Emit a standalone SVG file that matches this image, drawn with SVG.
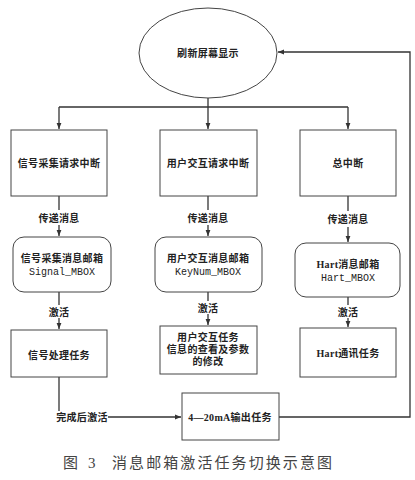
<svg xmlns="http://www.w3.org/2000/svg" width="415" height="480" viewBox="0 0 415 480">
<style>
.n{fill:#fff;stroke:#444;stroke-width:1}
.c{fill:none;stroke:#333;stroke-width:1.3}
.t{font-family:"Liberation Serif","Noto Sans CJK SC",serif;font-size:10px;font-weight:bold;fill:#222;text-anchor:middle;letter-spacing:0.3px}
.m{font-family:"Liberation Mono","Noto Sans CJK SC",monospace;font-size:10px;fill:#222;text-anchor:middle}
.cap{font-family:"Liberation Serif","Noto Sans CJK SC",serif;font-size:15px;fill:#444}
</style>
<defs>
<marker id="a" viewBox="0 0 10 10" refX="10" refY="5" markerWidth="6" markerHeight="6" markerUnits="userSpaceOnUse" orient="auto">
<path d="M0,1 L10,5 L0,9 z" fill="#333"/>
</marker>
</defs>
<rect width="415" height="480" fill="#fff"/>
<g id="connectors">
<path class="c" d="M208,98 V107"/>
<path class="c" d="M59,107 H348"/>
<path class="c" d="M59,107 V129" marker-end="url(#a)"/>
<path class="c" d="M208,107 V129" marker-end="url(#a)"/>
<path class="c" d="M348,107 V129" marker-end="url(#a)"/>
<path class="c" d="M59,196 V210"/>
<path class="c" d="M59,225 V236" marker-end="url(#a)"/>
<path class="c" d="M208,196 V210"/>
<path class="c" d="M208,225 V236" marker-end="url(#a)"/>
<path class="c" d="M348,196 V211"/>
<path class="c" d="M348,227 V242" marker-end="url(#a)"/>
<text class="t" x="59" y="222">传递消息</text>
<text class="t" x="208" y="222">传递消息</text>
<text class="t" x="348" y="223">传递消息</text>
<path class="c" d="M59,292 V305"/>
<path class="c" d="M59,318 V329" marker-end="url(#a)"/>
<path class="c" d="M208,292 V301"/>
<path class="c" d="M208,314 V325" marker-end="url(#a)"/>
<path class="c" d="M348,297 V305"/>
<path class="c" d="M348,318 V327" marker-end="url(#a)"/>
<text class="t" x="59" y="316">激活</text>
<text class="t" x="208" y="312">激活</text>
<text class="t" x="348" y="316">激活</text>
<path class="c" d="M59,377 V411"/>
<text class="t" x="82" y="421">完成后激活</text>
<path class="c" d="M108,417 H181" marker-end="url(#a)"/>
<path class="c" d="M279,417 H410 V52 H278" marker-end="url(#a)"/>
</g>
<g id="n0"><ellipse class="n" cx="208" cy="53" rx="69" ry="45"/><text class="t" x="208" y="57">刷新屏幕显示</text></g>
<g id="n1"><rect class="n" x="11" y="130" width="96" height="66"/><text class="t" x="59" y="167">信号采集请求中断</text></g>
<g id="n2"><rect class="n" x="160" y="130" width="97" height="66"/><text class="t" x="208" y="167">用户交互请求中断</text></g>
<g id="n3"><rect class="n" x="300" y="130" width="96" height="66"/><text class="t" x="348" y="167">总中断</text></g>
<g id="n4"><rect class="n" x="13" y="237" width="98" height="55" rx="11"/><text class="t" x="62" y="262">信号采集消息邮箱</text><text class="m" x="62" y="275">Signal_MBOX</text></g>
<g id="n5"><rect class="n" x="155" y="237" width="107" height="55" rx="11"/><text class="t" x="208" y="262">用户交互消息邮箱</text><text class="m" x="208" y="275">KeyNum_MBOX</text></g>
<g id="n6"><rect class="n" x="295" y="243" width="105" height="54" rx="11"/><text class="t" x="348" y="268">Hart消息邮箱</text><text class="m" x="348" y="281">Hart_MBOX</text></g>
<g id="n7"><rect class="n" x="11" y="330" width="96" height="47"/><text class="t" x="59" y="359">信号处理任务</text></g>
<g id="n8"><rect class="n" x="160" y="326" width="97" height="48"/><text class="t" x="208" y="341">用户交互任务</text><text class="t" x="208" y="353">信息的查看及参数</text><text class="t" x="208" y="365">的修改</text></g>
<g id="n9"><rect class="n" x="300" y="328" width="96" height="49"/><text class="t" x="348" y="357">Hart通讯任务</text></g>
<g id="n10"><rect class="n" x="182" y="393" width="97" height="47"/><text class="t" x="230" y="421">4—20mA输出任务</text></g>
<text class="cap" x="63" y="468">图</text>
<text class="cap" x="88" y="468">3</text>
<text class="cap" x="112" y="468" textLength="220" lengthAdjust="spacing">消息邮箱激活任务切换示意图</text>
</svg>
